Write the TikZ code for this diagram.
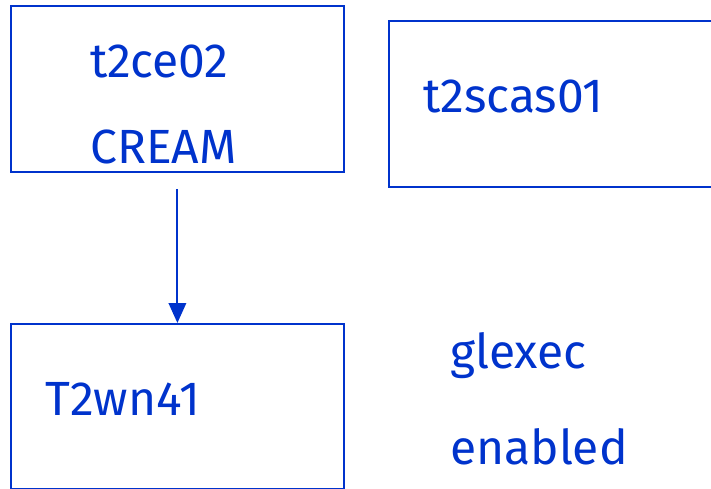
\documentclass[tikz,border=0pt]{standalone}
\usepackage{fontspec}
\setmainfont{Fira Sans}
\usepackage{tikz}
\usetikzlibrary{arrows.meta}
\usetikzlibrary{positioning}
\definecolor{hostblue}{HTML}{0033CC}
\newcommand\hostfontsize{\fontsize{48}{58}\selectfont}

\begin{document}
\begin{tikzpicture}[
    x=1pt, y=-1pt,
    host/.style = {
        rectangle,
        draw=hostblue,
        line width=1.8pt,
        anchor=north west,
        inner sep=0pt,
      },
    label text/.style = {
        anchor=base west,
        inner sep=0pt,
        text=hostblue,
        font=\hostfontsize,
      },
    link/.style = {
        draw=hostblue,
        line width=2pt,
        arrows={-Stealth[width=14pt, length=16pt, inset=0pt, scale=1.25]},
      },
    ]
    \useasboundingbox (0,0) rectangle (711,489);

    \node (ce) [host, minimum width=333pt, minimum height=166pt] at (10,5) {};
    \node (scas) [host, minimum width=340pt, minimum height=166pt] at (388,20) {};
    \node (wn) [host, minimum width=333pt, minimum height=165pt] at (10,323) {};

    \node (ce name) [label text] at (90,78) {t2ce02};
    \node (ce kind) [label text] at (90,164) {CREAM};
    \node (scas name) [label text] at (423,113) {t2scas01};
    \node (wn name) [label text] at (45,415) {T2wn41};
    \node (glexec) [label text] at (450,368) {glexec};
    \node (enabled) [label text] at (450,464) {enabled};

    \draw [link, shorten <=16pt] (ce) -- (wn);
  \end{tikzpicture}
\end{document}
